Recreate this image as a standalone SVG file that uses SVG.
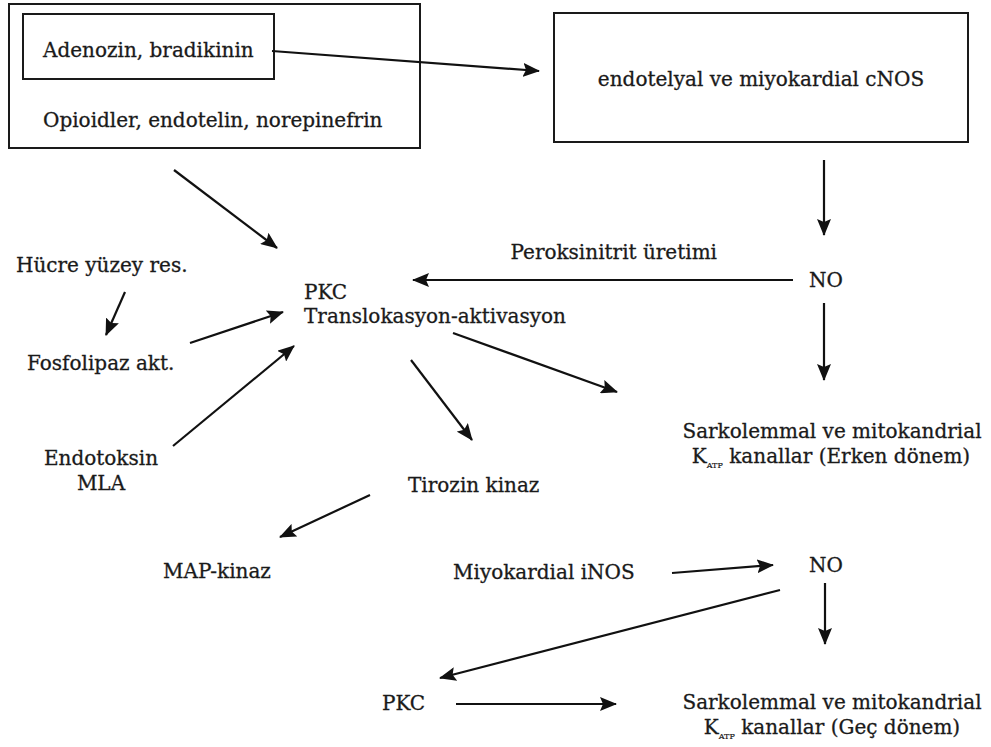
<svg xmlns="http://www.w3.org/2000/svg" width="991" height="747" viewBox="0 0 991 747">
<style>
  .t { font-family: "DejaVu Serif", "Liberation Serif", serif; font-size: 20px; fill: #1a1a1a; stroke: #1a1a1a; stroke-width: 0.3; }
  .sub { font-size: 8px; stroke-width: 0.2; }
  .box { fill: none; stroke: #1a1a1a; stroke-width: 2; }
  .c { fill: none; stroke: #111; stroke-width: 2.2; marker-end: url(#ah); }
</style>
<defs>
  <marker id="ah" markerUnits="userSpaceOnUse" markerWidth="18" markerHeight="14" refX="16" refY="7" orient="auto">
    <path d="M0,0 L17,7 L0,14 L3,7 z" fill="#111"/>
  </marker>
</defs>
<rect width="991" height="747" fill="#fff"/>

<g id="n-outer">
  <rect class="box" x="9" y="4" width="411" height="144"/>
  <text class="t" x="43" y="127">Opioidler, endotelin, norepinefrin</text>
</g>
<g id="n-adenozin">
  <rect class="box" x="23" y="14" width="251" height="65"/>
  <text class="t" x="43" y="57">Adenozin, bradikinin</text>
</g>
<g id="n-cnos">
  <rect class="box" x="554" y="13" width="414" height="129"/>
  <text class="t" x="761" y="86" text-anchor="middle">endotelyal ve miyokardial cNOS</text>
</g>
<g id="n-no1"><text class="t" x="826" y="287" text-anchor="middle">NO</text></g>
<g id="n-perok"><text class="t" x="717" y="259" text-anchor="end">Peroksinitrit üretimi</text></g>
<g id="n-pkc">
  <text class="t" x="304" y="299">PKC</text>
  <text class="t" x="304" y="323">Translokasyon-aktivasyon</text>
</g>
<g id="n-hucre"><text class="t" x="16" y="272">Hücre yüzey res.</text></g>
<g id="n-fosfo"><text class="t" x="27" y="370">Fosfolipaz akt.</text></g>
<g id="n-endo">
  <text class="t" x="101" y="465" text-anchor="middle">Endotoksin</text>
  <text class="t" x="101" y="490" text-anchor="middle">MLA</text>
</g>
<g id="n-katp1">
  <text class="t" x="832" y="438" text-anchor="middle">Sarkolemmal ve mitokandrial</text>
  <text class="t" x="831" y="463" text-anchor="middle">K<tspan class="sub" dy="5">ATP</tspan><tspan dy="-5"> kanallar (Erken dönem)</tspan></text>
</g>
<g id="n-tirozin"><text class="t" x="408" y="492">Tirozin kinaz</text></g>
<g id="n-map"><text class="t" x="163" y="578">MAP-kinaz</text></g>
<g id="n-inos"><text class="t" x="453" y="579">Miyokardial iNOS</text></g>
<g id="n-no2"><text class="t" x="826" y="572" text-anchor="middle">NO</text></g>
<g id="n-pkc2"><text class="t" x="382" y="710">PKC</text></g>
<g id="n-katp2">
  <text class="t" x="832" y="709" text-anchor="middle">Sarkolemmal ve mitokandrial</text>
  <text class="t" x="832" y="734" text-anchor="middle">K<tspan class="sub" dy="5">ATP</tspan><tspan dy="-5"> kanallar (Geç dönem)</tspan></text>
</g>

<g id="connectors">
  <line class="c" x1="272" y1="51" x2="539" y2="71"/>
  <line class="c" x1="824" y1="160" x2="824" y2="235"/>
  <line class="c" x1="793" y1="280" x2="413" y2="280"/>
  <line class="c" x1="824" y1="303" x2="824" y2="380"/>
  <line class="c" x1="174" y1="170" x2="277" y2="248"/>
  <line class="c" x1="125" y1="292" x2="106" y2="335"/>
  <line class="c" x1="190" y1="343" x2="283" y2="312"/>
  <line class="c" x1="173" y1="446" x2="294" y2="346"/>
  <line class="c" x1="411" y1="360" x2="472" y2="440"/>
  <line class="c" x1="453" y1="333" x2="617" y2="392"/>
  <line class="c" x1="370" y1="495" x2="280" y2="537"/>
  <line class="c" x1="672" y1="573" x2="773" y2="565"/>
  <line class="c" x1="825" y1="583" x2="825" y2="644"/>
  <line class="c" x1="780" y1="590" x2="440" y2="678"/>
  <line class="c" x1="456" y1="704" x2="616" y2="704"/>
</g>
</svg>
